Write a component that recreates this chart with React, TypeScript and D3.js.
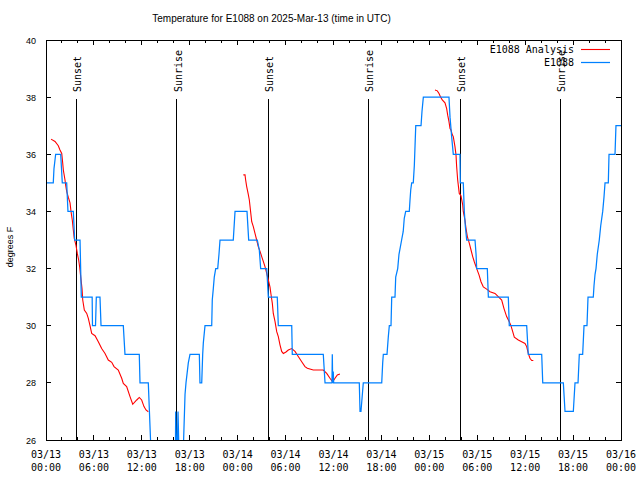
import React from "react";
import * as d3 from "d3";

// hours since 2025-03-13 00:00 UTC
const obsHours = [0, 0.91, 1.0, 1.21, 1.84, 2.04, 2.59, 2.75, 3.42, 3.59, 4.26, 4.42, 5.78, 5.82, 6.2, 6.3, 6.35, 6.76, 6.89, 9.68, 9.89, 11.68, 11.77, 12.81, 13.23, 16.19, 16.24, 16.4, 16.53, 16.7, 17.12, 17.41, 17.53, 17.82, 18.03, 19.2, 19.28, 19.5, 19.62, 19.7, 19.91, 20.75, 20.82, 20.95, 21.07, 21.25, 21.5, 21.66, 21.79, 23.45, 23.67, 25.17, 25.38, 26.3, 26.46, 26.71, 26.88, 27.64, 27.84, 28.96, 29.09, 30.77, 30.84, 34.72, 34.94, 35.81, 35.85, 35.9, 35.97, 36.02, 39.23, 39.32, 39.44, 39.73, 42.04, 42.16, 42.24, 42.7, 42.86, 42.99, 43.2, 43.29, 43.7, 43.79, 44.04, 44.2, 44.53, 44.73, 44.86, 45.04, 45.49, 45.58, 45.67, 45.79, 45.99, 46.12, 46.21, 46.3, 46.96, 47.08, 47.25, 50.46, 50.59, 50.8, 51.0, 51.84, 51.88, 52.25, 52.38, 52.5, 52.68, 53.72, 53.85, 53.93, 55.26, 55.39, 57.89, 58.01, 60.19, 60.39, 62.07, 62.2, 64.78, 64.99, 66.03, 66.24, 66.62, 66.78, 67.2, 67.37, 67.74, 67.87, 68.53, 68.62, 68.75, 68.87, 69.03, 69.28, 69.46, 69.71, 69.87, 70.0, 70.41, 70.5, 71.25, 71.37, 72];
const obsTemps = [35, 35, 35.5, 36, 36, 35, 35, 34, 34, 33, 33, 31, 31, 30, 30, 31, 31, 31, 30, 30, 29, 29, 28, 28, 25, 25, 27, 25, 27, 25, 25, 27.6, 28, 28.7, 29, 29, 28, 28, 29, 29.4, 30, 30, 30.9, 31.3, 31.7, 32, 32, 32.5, 33, 33, 34, 34, 33, 33, 33, 32.65, 32, 32, 31, 31, 30, 30, 29, 29, 28, 28, 29, 28, 28.4, 28, 28, 27, 27, 28, 28, 28.7, 29, 29, 29.6, 30, 30, 31, 31, 31.7, 32, 32.5, 33, 33.3, 33.76, 34, 34, 34.4, 34.75, 35, 35, 35.6, 36.3, 37, 37, 37.5, 38, 38, 37.3, 36.6, 36, 36, 35, 35, 34, 33.5, 33, 33, 32.5, 32, 32, 31, 31, 30, 30, 29, 29, 28, 28, 27, 27, 28, 28, 29, 29, 30, 30, 31, 31, 31.4, 31.8, 32, 32.5, 33, 33.5, 34, 34.5, 35, 35, 36, 36, 37, 37];

const anaHours1 = [0.63, 1.13, 1.54, 1.75, 1.97, 2.09, 2.17, 2.38, 2.47, 2.59, 2.79, 3.01, 3.13, 3.29, 3.42, 3.54, 3.76, 3.92, 4.09, 4.22, 4.35, 4.51, 4.6, 4.8, 5.1, 5.3, 5.51, 5.72, 6.14, 6.55, 6.97, 7.39, 7.8, 8.23, 8.52, 9.05, 9.48, 9.68, 10.1, 10.52, 10.86, 11.36, 11.68, 11.98, 12.27, 12.52, 12.81];
const anaTemps1 = [36.53, 36.45, 36.3, 36.15, 36.03, 35.7, 35.45, 35.1, 34.9, 34.7, 34.5, 34.3, 34.0, 33.7, 33.35, 33.06, 32.8, 32.53, 32.3, 32.05, 31.7, 31.3, 30.9, 30.55, 30.43, 30.26, 30.0, 29.73, 29.65, 29.44, 29.2, 29.03, 28.8, 28.72, 28.57, 28.45, 28.16, 27.98, 27.87, 27.52, 27.25, 27.4, 27.49, 27.4, 27.17, 27.05, 26.99];
const anaHours2 = [24.71, 24.92, 25.0, 25.13, 25.33, 25.46, 25.54, 25.76, 25.96, 26.17, 26.38, 26.58, 26.8, 27.01, 27.21, 27.42, 27.64, 27.84, 28.05, 28.17, 28.34, 28.46, 28.68, 28.89, 29.09, 29.3, 29.51, 29.72, 30.05, 30.34, 30.77, 31.18, 31.59, 32.02, 32.43, 32.72, 33.47, 34.72, 35.15, 35.56, 35.9, 36.19, 36.48, 36.81];
const anaTemps2 = [35.28, 35.28, 35.1, 34.87, 34.6, 34.4, 34.2, 33.64, 33.47, 33.23, 33.0, 32.77, 32.6, 32.42, 32.25, 32.07, 31.83, 31.6, 31.35, 31.1, 30.78, 30.43, 30.14, 29.79, 29.62, 29.33, 29.1, 29.03, 29.08, 29.15, 29.2, 29.1, 28.92, 28.74, 28.57, 28.51, 28.45, 28.45, 28.33, 28.16, 28.04, 28.16, 28.28, 28.31];
const anaHours3 = [48.71, 49.0, 49.21, 49.42, 49.62, 49.96, 50.17, 50.3, 50.46, 50.59, 50.71, 50.88, 51.0, 51.21, 51.34, 51.42, 51.55, 51.75, 51.96, 52.18, 52.25, 52.46, 52.59, 52.76, 53.01, 53.22, 53.43, 53.63, 53.93, 54.22, 54.47, 54.76, 55.18, 55.6, 56.22, 56.63, 57.06, 57.35, 57.68, 58.01, 58.22, 58.44, 58.64, 59.14, 59.56, 59.98, 60.19, 60.39, 60.6, 60.82, 61.02];
const anaTemps3 = [38.25, 38.22, 38.13, 38.0, 37.9, 37.8, 37.6, 37.37, 37.14, 36.9, 36.85, 36.68, 36.62, 36.27, 35.98, 35.57, 35.1, 34.63, 34.55, 34.23, 34.0, 33.7, 33.41, 33.12, 32.88, 32.65, 32.42, 32.24, 32.0, 31.78, 31.54, 31.36, 31.28, 31.19, 31.13, 31.02, 30.9, 30.6, 30.32, 30.14, 30.0, 29.79, 29.6, 29.5, 29.44, 29.38, 29.27, 29.03, 28.86, 28.78, 28.78];

const sunHours = [3.79, 16.4, 27.84, 40.36, 51.88, 64.4];
const sunLabels = ["Sunset", "Sunrise", "Sunset", "Sunrise", "Sunset", "Sunrise"];
const yTicks = [26, 28, 30, 32, 34, 36, 38, 40];

const T0 = Date.UTC(2025, 2, 13);
const toDate = (h: number) => new Date(T0 + h * 3600e3);

export default function App() {
  const W = 640, H = 480;
  const L = 46, R = 621, T = 40, B = 440;
  const x = d3.scaleUtc().domain([toDate(0), toDate(72)]).range([L, R]);
  const y = d3.scaleLinear().domain([26, 40]).range([B, T]);
  const line = d3.line<[number, number]>().x((d) => x(toDate(d[0]))).y((d) => y(d[1]));
  const obs = line(obsHours.map((h, i) => [h, obsTemps[i]]) as [number, number][]) || "";
  const ana = [
    [anaHours1, anaTemps1],
    [anaHours2, anaTemps2],
    [anaHours3, anaTemps3],
  ].map(([hs, ts]) => line(hs.map((h, i) => [h, ts[i]]) as [number, number][]) || "");
  const majorTicks = x.ticks(d3.utcHour.every(6)!);
  const minorTicks = x.ticks(d3.utcHour.every(2)!);
  const fmtD = d3.utcFormat("%m/%d");
  const fmtT = d3.utcFormat("%H:%M");
  const mono = "'DejaVu Sans Mono', monospace";
  const sans = "'Liberation Sans', Arial, sans-serif";
  return (
    <svg width={W} height={H} style={{ position: "absolute", left: 0, top: 0, background: "#fff" }}>
      <defs>
        <clipPath id="plot">
          <rect x={L} y={T} width={R - L} height={B - T} />
        </clipPath>
      </defs>
      <rect x={0} y={0} width={W} height={H} fill="#fff" />
      <text x={271.5} y={22} fontFamily={sans} fontSize={10} textAnchor="middle" fill="#000">
        Temperature for E1088 on 2025-Mar-13 (time in UTC)
      </text>
      <text transform={`translate(13,${247}) rotate(-90)`} fontFamily={sans} fontSize={9} textAnchor="middle" fill="#000">
        degrees F
      </text>
      {yTicks.map((v) => (
        <g key={"y" + v}>
          <line x1={L} x2={L + 5} y1={y(v)} y2={y(v)} stroke="#000" shapeRendering="crispEdges" />
          <line x1={R - 5} x2={R} y1={y(v)} y2={y(v)} stroke="#000" shapeRendering="crispEdges" />
          <text x={36} y={y(v) + 3.5} fontFamily={sans} fontSize={9} textAnchor="end" fill="#000">
            {v}
          </text>
        </g>
      ))}
      {minorTicks.map((d, i) => (
        <g key={"m" + i}>
          <line x1={x(d)} x2={x(d)} y1={B} y2={B - 3} stroke="#000" shapeRendering="crispEdges" />
          <line x1={x(d)} x2={x(d)} y1={T} y2={T + 3} stroke="#000" shapeRendering="crispEdges" />
        </g>
      ))}
      {majorTicks.map((d, i) => (
        <g key={"M" + i}>
          <line x1={x(d)} x2={x(d)} y1={B} y2={B - 5} stroke="#000" shapeRendering="crispEdges" />
          <line x1={x(d)} x2={x(d)} y1={T} y2={T + 5} stroke="#000" shapeRendering="crispEdges" />
          <text x={x(d)} y={458} fontFamily={mono} fontSize={10} textAnchor="middle" fill="#000">
            {fmtD(d)}
          </text>
          <text x={x(d)} y={471} fontFamily={mono} fontSize={10} textAnchor="middle" fill="#000">
            {fmtT(d)}
          </text>
        </g>
      ))}
      {sunHours.map((h, i) => (
        <g key={"s" + i}>
          <line x1={x(toDate(h))} x2={x(toDate(h))} y1={99} y2={B} stroke="#000" strokeWidth={1} shapeRendering="crispEdges" />
          <text transform={`translate(${x(toDate(h)) + 5},92) rotate(-90)`} fontFamily={mono} fontSize={10} fill="#000">
            {sunLabels[i]}
          </text>
        </g>
      ))}
      <g clipPath="url(#plot)" fill="none">
        {ana.map((p, i) => (
          <path key={"a" + i} d={p} stroke="#ff0000" strokeWidth={1.1} />
        ))}
        <path d={obs} stroke="#0080ff" strokeWidth={1.25} />
      </g>
      <text x={574} y={53} fontFamily={mono} fontSize={10} textAnchor="end" fill="#000">E1088 Analysis</text>
      <line x1={581} x2={610} y1={49.5} y2={49.5} stroke="#ff0000" strokeWidth={1.1} />
      <text x={574} y={66} fontFamily={mono} fontSize={10} textAnchor="end" fill="#000">E1088</text>
      <line x1={581} x2={610} y1={62.5} y2={62.5} stroke="#0080ff" strokeWidth={1.25} />
      <rect x={L} y={T} width={R - L} height={B - T} fill="none" stroke="#000" strokeWidth={1} shapeRendering="crispEdges" />
    </svg>
  );
}
